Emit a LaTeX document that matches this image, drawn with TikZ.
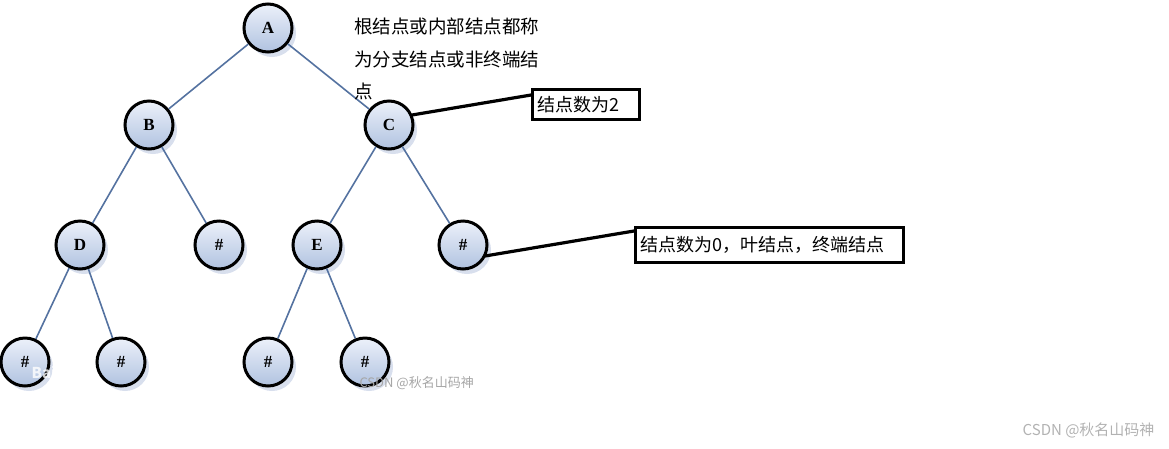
\documentclass[tikz,border=0pt]{standalone}
\usepackage{fontspec}
\newfontfamily\cjk{Noto Sans CJK SC}
\newfontfamily\serifb{Liberation Serif}
\usetikzlibrary{shadows}
\definecolor{edgec}{RGB}{84,114,160}
\definecolor{nodetop}{RGB}{236,241,250}
\definecolor{nodebot}{RGB}{176,194,224}
\definecolor{shad}{RGB}{200,210,230}
\begin{document}
\begin{tikzpicture}[x=1pt,y=-1pt,
  tn/.style={circle,minimum size=48pt,inner sep=0pt,line width=3pt,draw=black,
    top color=nodetop,bottom color=nodebot,
    drop shadow={shadow xshift=4pt,shadow yshift=-5pt,fill=shad,opacity=0.7},
    font=\serifb\fontsize{17}{17}\selectfont\bfseries},
  edge/.style={draw=edgec,line width=1.6pt},
  cbox/.style={draw=black,line width=3.2pt,inner sep=3pt,anchor=north west,font=\cjk\fontsize{18}{19}\selectfont},
  cline/.style={draw=black,line width=3.2pt},
  wm/.style={font=\cjk\fontsize{13}{13}\selectfont,text=gray!70}]
\useasboundingbox (0,0) rectangle (1169,448);
\node[tn] (A) at (268,28) {A};
\node[tn] (B) at (149,125) {B};
\node[tn] (C) at (389,125) {C};
\node[tn] (D) at (80,245) {D};
\node[tn] (h1) at (219,245) {\#};
\node[tn] (E) at (317,245) {E};
\node[tn] (h2) at (463,245) {\#};
\node[tn] (l1) at (25,362) {\#};
\node[tn] (l2) at (121,362) {\#};
\node[tn] (l3) at (268,362) {\#};
\node[tn] (l4) at (365,362) {\#};
\foreach \a/\b in {A/B,A/C,B/D,B/h1,C/E,C/h2,D/l1,D/l2,E/l3,E/l4}
  \draw[edge] (\a) -- (\b);
\node[anchor=north west,align=left,font=\cjk\fontsize{18.5}{32.5}\selectfont,inner sep=0pt] (txt) at (354,18)
  {根结点或内部结点都称\\为分支结点或非终端结\\点};
\node[cbox,minimum width=107pt,minimum height=30pt,text width=98pt] (b1) at (531,88) {结点数为2};
\node[cbox,minimum width=268pt,minimum height=35pt,text width=259pt] (b2) at (634,226) {结点数为0，叶结点，终端结点};
\coordinate (c1) at (412,115);
\coordinate (c2) at (485,256);
\draw[cline] (c1) -- (b1.west|-0,95);
\draw[cline] (c2) -- (b2.west|-0,231);
\node[wm,anchor=west] (w1) at (356,383) {CSDN @秋名山码神};
\node[font=\cjk\fontsize{15}{15}\selectfont\bfseries,text=white,opacity=0.8] (w0) at (60,373) {Bai\,百度};
\node[font=\cjk\fontsize{15}{15}\selectfont,text=gray!60,anchor=east] (w2) at (1158,430) {CSDN @秋名山码神};
\end{tikzpicture}
\end{document}
